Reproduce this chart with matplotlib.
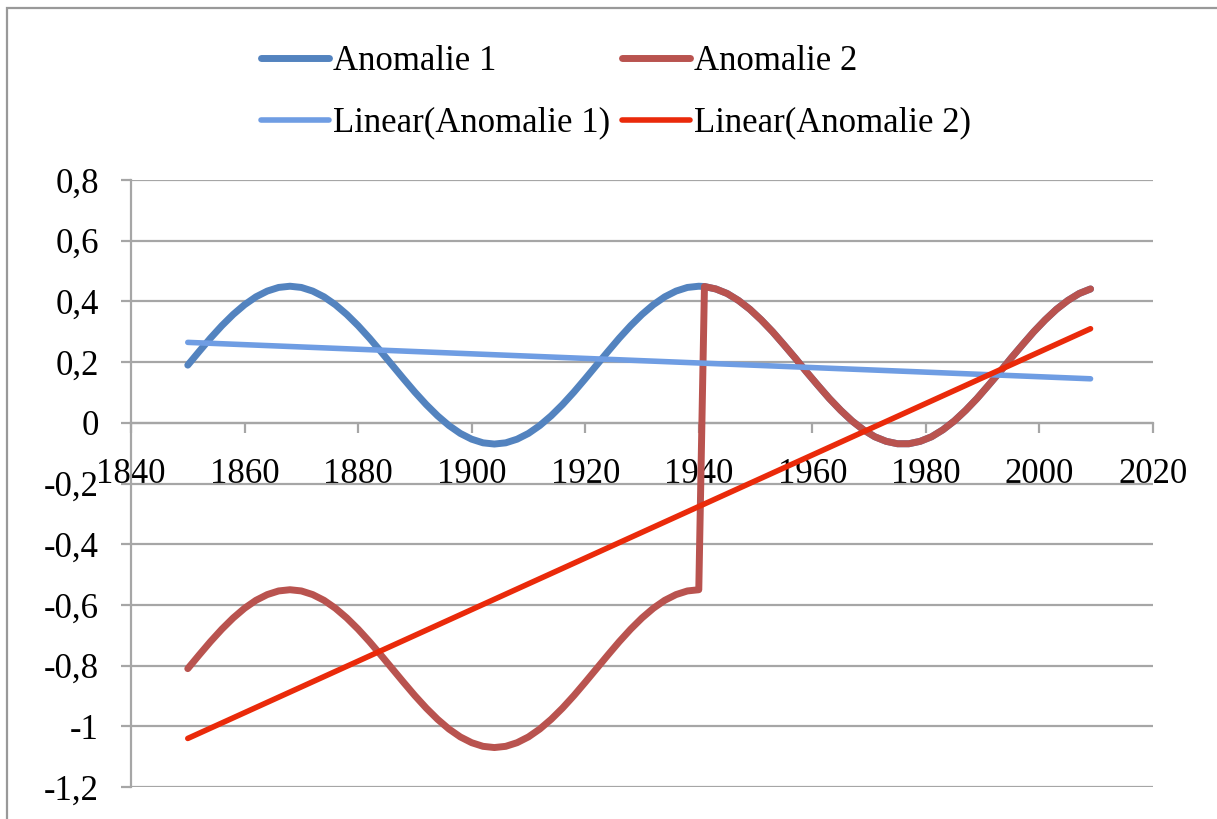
import numpy as np
import matplotlib
matplotlib.use("Agg")
import matplotlib.pyplot as plt
from matplotlib.patches import Rectangle

# data
years = [1850, 1852, 1854, 1856, 1858, 1860, 1862, 1864, 1866, 1868,
         1870, 1872, 1874, 1876, 1878, 1880, 1882, 1884, 1886, 1888,
         1890, 1892, 1894, 1896, 1898, 1900, 1902, 1904, 1906, 1908,
         1910, 1912, 1914, 1916, 1918, 1920, 1922, 1924, 1926, 1928,
         1930, 1932, 1934, 1936, 1938, 1940, 1941, 1943, 1945, 1947,
         1949, 1951, 1953, 1955, 1957, 1959, 1961, 1963, 1965, 1967,
         1969, 1971, 1973, 1975, 1977, 1979, 1981, 1983, 1985, 1987,
         1989, 1991, 1993, 1995, 1997, 1999, 2001, 2003, 2005, 2007, 2009]

anomalie1 = [0.190, 0.235, 0.279, 0.320, 0.357, 0.389, 0.415, 0.434, 0.446, 0.450,
             0.446, 0.434, 0.415, 0.389, 0.357, 0.320, 0.279, 0.235, 0.190, 0.145,
             0.101, 0.060, 0.023, -0.009, -0.035, -0.054, -0.066, -0.070, -0.066, -0.054,
             -0.035, -0.009, 0.023, 0.060, 0.101, 0.145, 0.190, 0.235, 0.279, 0.320,
             0.357, 0.389, 0.415, 0.434, 0.446, 0.450, 0.449, 0.441, 0.426, 0.403,
             0.374, 0.339, 0.300, 0.257, 0.213, 0.167, 0.123, 0.080, 0.041, 0.006,
             -0.023, -0.046, -0.061, -0.069, -0.069, -0.061, -0.046, -0.023, 0.006, 0.041,
             0.080, 0.123, 0.167, 0.213, 0.257, 0.300, 0.339, 0.374, 0.403, 0.426, 0.441]

anomalie2 = [-0.810, -0.765, -0.721, -0.680, -0.643, -0.611, -0.585, -0.566, -0.554, -0.550,
             -0.554, -0.566, -0.585, -0.611, -0.643, -0.680, -0.721, -0.765, -0.810, -0.855,
             -0.899, -0.940, -0.977, -1.009, -1.035, -1.054, -1.066, -1.070, -1.066, -1.054,
             -1.035, -1.009, -0.977, -0.940, -0.899, -0.855, -0.810, -0.765, -0.721, -0.680,
             -0.643, -0.611, -0.585, -0.566, -0.554, -0.550, 0.449, 0.441, 0.426, 0.403,
             0.374, 0.339, 0.300, 0.257, 0.213, 0.167, 0.123, 0.080, 0.041, 0.006,
             -0.023, -0.046, -0.061, -0.069, -0.069, -0.061, -0.046, -0.023, 0.006, 0.041,
             0.080, 0.123, 0.167, 0.213, 0.257, 0.300, 0.339, 0.374, 0.403, 0.426, 0.441]

trend_years = [1850, 2009]
trend1 = [0.265, 0.145]
trend2 = [-1.04, 0.31]

yticks = [0.8, 0.6, 0.4, 0.2, 0, -0.2, -0.4, -0.6, -0.8, -1, -1.2]
xticks = [1840, 1860, 1880, 1900, 1920, 1940, 1960, 1980, 2000, 2020]

plt.rcParams['font.family'] = ['Liberation Serif', 'DejaVu Serif']
fs = 25
grey = '#a6a6a6'

fig = plt.figure(figsize=(12.17, 8.19), dpi=100)
ax = fig.add_axes([131/1217, 1 - 787/819, 1022/1217, 607/819])

l1, = ax.plot(years, anomalie1, color='#5383bf', lw=5, solid_capstyle='round', label='Anomalie 1', zorder=3)
l2, = ax.plot(years, anomalie2, color='#b9534f', lw=5, solid_capstyle='round', label='Anomalie 2', zorder=4)
t1, = ax.plot(trend_years, trend1, color='#6f9de3', lw=4, solid_capstyle='round', label='Linear(Anomalie 1)', zorder=5)
t2, = ax.plot(trend_years, trend2, color='#ea2a0a', lw=4, solid_capstyle='round', label='Linear(Anomalie 2)', zorder=6)

ax.set_xlim(1840, 2020)
ax.set_ylim(-1.2, 0.8)
ax.set_yticks(yticks)
ax.set_yticklabels([f"{v:g}".replace('.', ',') for v in yticks])
ax.set_xticks(xticks)
ax.set_xticklabels([str(v) for v in xticks])

ax.grid(True, axis='y', color=grey, lw=1.6)
ax.set_axisbelow(True)
for s in ['top', 'right']:
    ax.spines[s].set_visible(False)
ax.spines['left'].set_color(grey)
ax.spines['left'].set_linewidth(1.6)
ax.spines['bottom'].set_position(('data', 0))
ax.spines['bottom'].set_color(grey)
ax.spines['bottom'].set_linewidth(1.6)

ax.tick_params(axis='y', length=7, width=1.6, color=grey, labelsize=fs, pad=16)
ax.tick_params(axis='x', length=7, width=1.6, color=grey, labelsize=fs, pad=18)
for lab in ax.get_xticklabels():
    lab.set_zorder(10)

fig.legend(handles=[l1, t1, l2, t2], ncol=2, loc='upper left',
           bbox_to_anchor=(230/1217, 1 - 14/819), frameon=False, fontsize=fs,
           handlelength=1.95, handletextpad=0.12, columnspacing=0.35,
           labelspacing=0.82)

# chart area border
fig.patches.append(Rectangle((7/1217, -0.1), 1.2, 1 - 8/819 + 0.1,
                             transform=fig.transFigure, fill=False,
                             edgecolor='#999999', lw=1.6))

fig.savefig('out.png', dpi=100)
